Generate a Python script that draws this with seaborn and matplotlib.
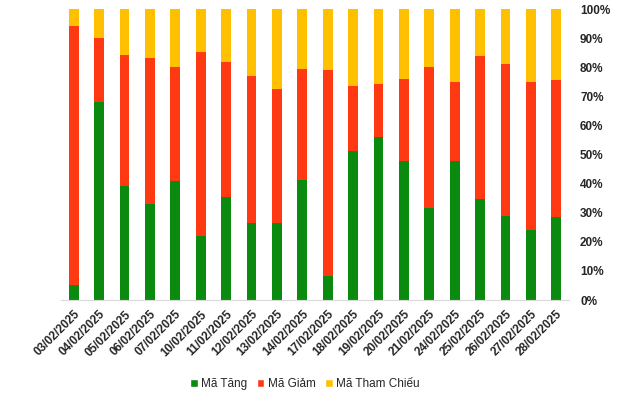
import matplotlib
matplotlib.use("Agg")
import matplotlib.pyplot as plt
import seaborn as sns
import numpy as np
from matplotlib.patches import Patch

dates = ["03/02/2025", "04/02/2025", "05/02/2025", "06/02/2025", "07/02/2025",
         "10/02/2025", "11/02/2025", "12/02/2025", "13/02/2025", "14/02/2025",
         "17/02/2025", "18/02/2025", "19/02/2025", "20/02/2025", "21/02/2025",
         "24/02/2025", "25/02/2025", "26/02/2025", "27/02/2025", "28/02/2025"]
ma_tang = [5.2, 68.2, 39.3, 33.1, 40.9, 22.1, 35.4, 26.5, 26.5, 41.4,
           8.4, 51.2, 56.0, 47.8, 31.7, 47.8, 34.7, 29.0, 24.2, 28.5]
ma_giam = [89.0, 21.8, 44.9, 50.1, 39.2, 63.1, 46.4, 50.5, 46.0, 38.0,
           70.6, 22.3, 18.2, 28.1, 48.4, 27.1, 49.1, 52.1, 50.7, 47.1]
ma_tham_chieu = [5.8, 10.0, 15.8, 16.8, 19.9, 14.8, 18.2, 23.0, 27.5, 20.6,
                 21.0, 26.5, 25.8, 24.1, 19.9, 25.1, 16.2, 18.9, 25.1, 24.4]
series_names = ["Mã Tăng", "Mã Giảm", "Mã Tham Chiếu"]
colors = ["#0B8A10", "#FF3A12", "#FFC000"]

sns.set_style("white")
plt.rcParams['font.family'] = ['Liberation Sans', 'DejaVu Sans']

# normalise to 100% and stack by drawing cumulative heights back to front
g = np.array(ma_tang)
r = np.array(ma_giam)
y = np.array(ma_tham_chieu)
total = g + r + y
lvl1 = g / total * 100
lvl2 = (g + r) / total * 100
lvl3 = (g + r + y) / total * 100

fig, ax = plt.subplots(figsize=(6.4, 3.93), dpi=100)
fig.subplots_adjust(left=0.0953, right=0.889, top=0.977, bottom=0.2366)

for lvl, c in zip([lvl3, lvl2, lvl1], colors[::-1]):
    sns.barplot(x=dates, y=lvl, color=c, width=0.39, saturation=1,
                linewidth=0, ax=ax)

ax.set_xlim(-0.5, len(dates) - 0.5)
ax.set_ylim(0, 100)
ax.yaxis.tick_right()
ax.set_yticks(range(0, 101, 10))
ax.set_yticklabels([f"{v}%" for v in range(0, 101, 10)], fontsize=8.5, fontweight="bold")
ax.tick_params(axis="y", length=0, pad=8)
ax.tick_params(axis="x", length=0, pad=6)
plt.setp(ax.get_xticklabels(), rotation=45, ha="right", rotation_mode="anchor",
         fontsize=8.5, fontweight="bold")
for s in ["top", "left", "right"]:
    ax.spines[s].set_visible(False)
ax.spines["bottom"].set_color("#d9d9d9")
ax.set_xlabel("")
ax.set_ylabel("")

handles = [Patch(facecolor=c, label=n) for c, n in zip(colors, series_names)]
fig.legend(handles=handles, loc="center", bbox_to_anchor=(305 / 640, 1 - 384 / 393),
           ncol=3, frameon=False, fontsize=8.5, handlelength=0.65, handleheight=0.65,
           handletextpad=0.3, columnspacing=0.8)

plt.savefig("out.png", dpi=100)
